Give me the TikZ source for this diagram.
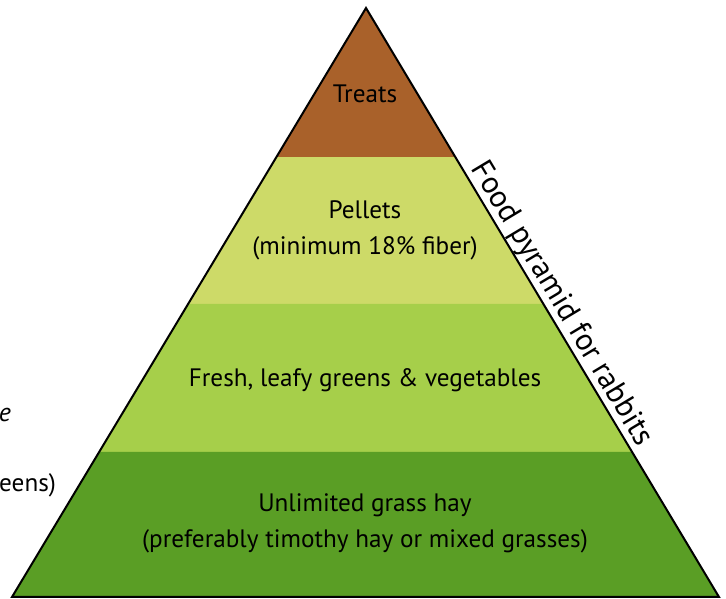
\documentclass[tikz,border=0pt]{standalone}
\usepackage{fontspec}
\setmainfont{PT Sans}
\usetikzlibrary{calc}
\definecolor{treatc}{HTML}{A9612A}
\definecolor{pelletc}{HTML}{CDDA68}
\definecolor{greenc}{HTML}{A6CF4A}
\definecolor{hayc}{HTML}{5A9E25}
\begin{document}
\begin{tikzpicture}[x=1pt,y=1pt,
  lbl/.style={font=\fontsize{25.2}{36}\selectfont, align=center, inner sep=0pt, anchor=base, text=black}]
\useasboundingbox (0,0) rectangle (726,599);
\coordinate (A) at (366,591);
\coordinate (L) at (12,2);
\coordinate (R) at (719,2);
\coordinate (L1) at ($(A)!0.253!(L)$);
\coordinate (R1) at ($(A)!0.253!(R)$);
\coordinate (L2) at ($(A)!0.5025!(L)$);
\coordinate (R2) at ($(A)!0.5025!(R)$);
\coordinate (L3) at ($(A)!0.7538!(L)$);
\coordinate (R3) at ($(A)!0.7538!(R)$);
\fill[treatc] (A) -- (L1) -- (R1) -- cycle;
\fill[pelletc] (L1) -- (L2) -- (R2) -- (R1) -- cycle;
\fill[greenc] (L2) -- (L3) -- (R3) -- (R2) -- cycle;
\fill[hayc] (L3) -- (L) -- (R) -- (R3) -- cycle;
\draw[line width=2pt, line join=miter] (A) -- (L) -- (R) -- cycle;
\node[lbl] (treats) at (365,496) {Treats};
\node[lbl] (pellets) at (365,344) {Pellets\\(minimum 18\% fiber)};
\node[lbl] (greens) at (365,212) {Fresh, leafy greens \& vegetables};
\node[lbl] (hay) at (365,51) {Unlimited grass hay\\(preferably timothy hay or mixed grasses)};
\node[font=\fontsize{31}{36}\selectfont, inner sep=1pt, anchor=south, rotate=-59.06] (title) at ($(A)!0.516!(R)$) {Food pyramid for rabbits};
\node[font=\fontsize{26}{30}\selectfont\itshape, inner sep=0pt, anchor=base east] (e) at (11,177) {e};
\node[font=\fontsize{25.2}{30}\selectfont, inner sep=0pt, anchor=base west] (eens) at (-1,107) {eens)};
\end{tikzpicture}
\end{document}
